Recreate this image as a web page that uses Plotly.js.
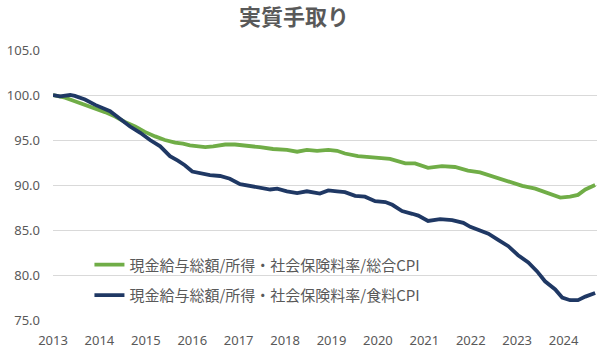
<!DOCTYPE html>
<html>
<head>
<meta charset="utf-8">
<script src="https://cdn.plot.ly/plotly-3.0.1.min.js"></script>
<style>html,body{margin:0;padding:0;background:#fff;}#chart{width:600px;height:358px;}</style>
</head>
<body>
<div id="chart"></div>
<script>
const chartTitle = "実質手取り";
const seriesNames = ["現金給与総額/所得・社会保険料率/総合CPI", "現金給与総額/所得・社会保険料率/食料CPI"];
const yearTicks = [2013, 2014, 2015, 2016, 2017, 2018, 2019, 2020, 2021, 2022, 2023, 2024];

const greenT = [2013.00, 2013.15, 2013.26, 2013.47, 2013.69, 2013.91, 2014.12, 2014.34, 2014.55, 2014.77, 2014.98,
  2015.20, 2015.41, 2015.63, 2015.80, 2015.95, 2016.17, 2016.28, 2016.45, 2016.71, 2016.92, 2017.18, 2017.46,
  2017.74, 2018.04, 2018.26, 2018.47, 2018.69, 2018.93, 2019.12, 2019.29, 2019.57, 2019.94, 2020.26, 2020.59,
  2020.80, 2021.08, 2021.38, 2021.66, 2021.94, 2022.20, 2022.46, 2022.74, 2023.11, 2023.39, 2023.67, 2023.93,
  2024.14, 2024.31, 2024.47, 2024.68];
const greenV = [100.0, 99.8, 99.7, 99.3, 98.9, 98.5, 98.1, 97.6, 97.0, 96.5, 95.9,
  95.4, 95.0, 94.7, 94.6, 94.4, 94.3, 94.2, 94.3, 94.5, 94.5, 94.4, 94.2,
  94.0, 93.9, 93.7, 93.9, 93.8, 93.9, 93.8, 93.5, 93.2, 93.0, 92.9, 92.4,
  92.4, 91.9, 92.1, 92.0, 91.6, 91.4, 91.0, 90.5, 89.9, 89.6, 89.1, 88.6,
  88.7, 88.9, 89.5, 90.0];

const blueT = [2013.00, 2013.15, 2013.37, 2013.47, 2013.69, 2013.91, 2014.23, 2014.44, 2014.66, 2014.88, 2015.09,
  2015.31, 2015.52, 2015.69, 2015.84, 2016.00, 2016.17, 2016.38, 2016.60, 2016.81, 2017.03, 2017.25, 2017.46,
  2017.68, 2017.83, 2018.04, 2018.26, 2018.47, 2018.75, 2018.93, 2019.12, 2019.29, 2019.51, 2019.72, 2019.94,
  2020.16, 2020.31, 2020.52, 2020.74, 2020.87, 2021.08, 2021.34, 2021.60, 2021.84, 2021.99, 2022.20, 2022.38,
  2022.59, 2022.81, 2023.02, 2023.24, 2023.43, 2023.60, 2023.82, 2023.97, 2024.14, 2024.31, 2024.47, 2024.68];
const blueV = [100.0, 99.85, 100.0, 99.9, 99.5, 98.9, 98.2, 97.4, 96.5, 95.8, 95.0,
  94.3, 93.2, 92.7, 92.2, 91.5, 91.3, 91.1, 91.0, 90.7, 90.1, 89.9, 89.7,
  89.5, 89.6, 89.3, 89.1, 89.3, 89.05, 89.4, 89.3, 89.2, 88.8, 88.7, 88.2,
  88.1, 87.8, 87.1, 86.8, 86.6, 86.0, 86.2, 86.1, 85.8, 85.35, 85.0, 84.6,
  83.9, 83.2, 82.2, 81.4, 80.4, 79.3, 78.4, 77.5, 77.2, 77.2, 77.6, 78.0];

const yTicks = [75, 80, 85, 90, 95, 100, 105];

const traces = [
  {x: greenT, y: greenV, name: seriesNames[0], legendgroup: 'g1', type: 'scatter', mode: 'lines',
   line: {color: '#70AD47', width: 3.8}},
  {x: blueT, y: blueV, name: seriesNames[1], legendgroup: 'g2', type: 'scatter', mode: 'lines',
   line: {color: '#1F3864', width: 3.8}}
];

const layout = {
  width: 600, height: 358,
  margin: {l: 53, r: 3, t: 50, b: 38},
  paper_bgcolor: '#fff', plot_bgcolor: '#fff',
  font: {family: '"Noto Sans CJK JP", "Noto Sans", sans-serif', color: '#595959', size: 13},
  title: {text: '<b>' + chartTitle + '</b>', x: 0.49, xanchor: 'center', y: 0.953, yanchor: 'middle',
          font: {size: 22, color: '#595959', family: '"Noto Sans CJK JP", sans-serif'}},
  xaxis: {range: [2013, 2024.72], tickvals: yearTicks, ticktext: yearTicks.map(String),
          showgrid: false, zeroline: false, showline: false, ticks: '', ticklabelstandoff: 11,
          tickfont: {family: '"Noto Sans", sans-serif', size: 13, color: '#595959'}, fixedrange: true},
  yaxis: {range: [75, 105], tickvals: yTicks, ticktext: yTicks.map(v => v.toFixed(1)),
          showgrid: true, gridcolor: '#D9D9D9', gridwidth: 1, zeroline: false, showline: false, ticks: '',
          ticklabelstandoff: 12,
          tickfont: {family: '"Noto Sans", sans-serif', size: 13, color: '#595959'}, fixedrange: true},
  showlegend: true,
  legend: {x: 0.067, y: 0.265, xanchor: 'left', yanchor: 'top', bgcolor: 'rgba(0,0,0,0)',
           font: {size: 15, color: '#595959', family: '"Noto Sans CJK JP", sans-serif'},
           tracegroupgap: 8, itemwidth: 30}
};

Plotly.newPlot('chart', traces, layout, {displayModeBar: false, staticPlot: true});
</script>
</body>
</html>
